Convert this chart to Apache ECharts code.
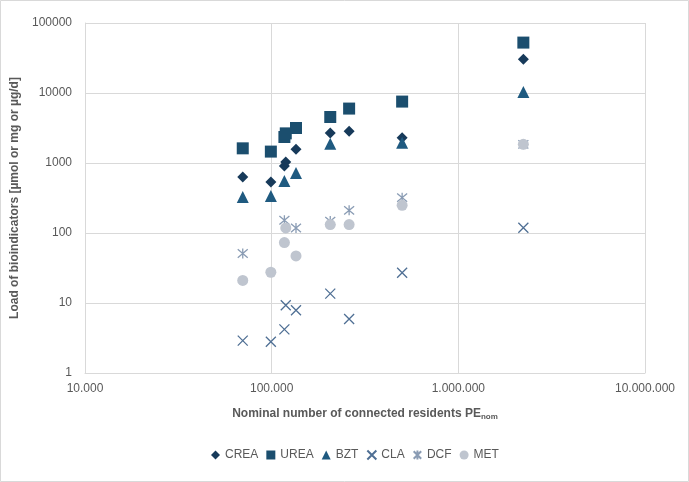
<!DOCTYPE html>
<html>
<head>
<meta charset="utf-8">
<script src="https://cdn.jsdelivr.net/npm/echarts@6/dist/echarts.min.js"></script>
<style>
html,body{margin:0;padding:0;background:#fff;}
#chart{width:689px;height:482px;}
</style>
</head>
<body>
<div id="chart"></div>
<script>
// Nominal number of connected residents (PE_nom) per WWTP
const pe   = [70000, 99000, 117000, 119000, 135000, 206000, 260000, 500000, 2230000];
// Loads of bioindicators
const crea = [630, 535, 906, 1030, 1570, 2680, 2840, 2300, 30300];
const urea = [1620, 1455, 2350, 2650, 3160, 4540, 5990, 7540, 52500];
const bzt  = [327, 338, 553, null, 720, 1890, null, 1950, 10300];
const cla  = [2.9, 2.8, 4.2, 9.3, 7.9, 13.6, 5.9, 27, 119];
const dcf  = [51, null, 152, null, 118, 148, 211, 320, 1850];
const met  = [21, 27.5, 73, 118, 47, 132, 132, 249, 1850];

const seriesNames = ['CREA', 'UREA', 'BZT', 'CLA', 'DCF', 'MET'];
const seriesVals = [crea, urea, bzt, cla, dcf, met];

const crossPath = 'path://M0,0L10,10M10,0L0,10';
const starPath = 'path://M0,0L10,10M10,0L0,10M5,-1L5,11';

const styles = {
  CREA: {symbol: 'diamond', size: 11, itemStyle: {color: '#173a5a', opacity: 1}},
  UREA: {symbol: 'rect', size: 12, itemStyle: {color: '#1b4e6e', opacity: 1}},
  BZT:  {symbol: 'triangle', size: 12, itemStyle: {color: '#1f5a80', opacity: 1}},
  CLA:  {symbol: crossPath, size: 10, itemStyle: {color: 'rgba(0,0,0,0)', borderColor: '#4f6f94', borderWidth: 1.3, opacity: 1}},
  DCF:  {symbol: starPath, size: 10, itemStyle: {color: 'rgba(0,0,0,0)', borderColor: '#8a9cb4', borderWidth: 1.3, opacity: 1}},
  MET:  {symbol: 'circle', size: 11, itemStyle: {color: '#bfc5cf', opacity: 1}}
};

function pairs(vals) {
  const out = [];
  for (let i = 0; i < pe.length; i++) {
    if (vals[i] !== null && vals[i] !== undefined) out.push([pe[i], vals[i]]);
  }
  return out;
}

function dots(v) {
  return String(Math.round(v)).replace(/\B(?=(\d{3})+(?!\d))/g, '.');
}

const chart = echarts.init(document.getElementById('chart'), null, {renderer: 'canvas'});
const font = 'Liberation Sans, Arial, sans-serif';

chart.setOption({
  animation: false,
  backgroundColor: '#fff',
  graphic: [{
    type: 'rect',
    shape: {x: 0.5, y: 0.5, width: 688, height: 481},
    style: {fill: 'none', stroke: '#d9d9d9', lineWidth: 1}
  }],
  grid: {left: 85, right: 44, top: 23, bottom: 109},
  legend: {
    bottom: 16,
    left: 206,
    itemWidth: 9,
    itemHeight: 9,
    itemGap: 8,
    textStyle: {color: '#595959', fontSize: 12, fontFamily: font},
    data: seriesNames
  },
  xAxis: {
    type: 'log',
    logBase: 10,
    min: 10000,
    max: 10000000,
    name: '{a|Nominal number of connected residents PE}{s|nom}',
    nameLocation: 'middle',
    nameGap: 33,
    nameTextStyle: {
      rich: {
        a: {color: '#595959', fontSize: 12, fontWeight: 'bold', fontFamily: font},
        s: {color: '#595959', fontSize: 8, fontWeight: 'bold', fontFamily: font, padding: [7, 0, 0, 0]}
      }
    },
    axisLine: {show: true, lineStyle: {color: '#d9d9d9'}},
    axisTick: {show: false},
    splitLine: {show: true, lineStyle: {color: '#d9d9d9', width: 1}},
    minorTick: {show: false},
    axisLabel: {color: '#595959', fontSize: 12, fontFamily: font, margin: 10, formatter: dots, showMinLabel: true, showMaxLabel: true}
  },
  yAxis: {
    type: 'log',
    logBase: 10,
    min: 1,
    max: 100000,
    name: 'Load of bioindicators [µmol or mg or µg/d]',
    nameLocation: 'middle',
    nameGap: 53,
    nameTextStyle: {color: '#595959', fontSize: 12, fontWeight: 'bold', fontFamily: font},
    axisLine: {show: true, lineStyle: {color: '#d9d9d9'}},
    axisTick: {show: false},
    splitLine: {show: true, lineStyle: {color: '#d9d9d9', width: 1}},
    axisLabel: {color: '#595959', fontSize: 12, fontFamily: font, margin: 13, formatter: v => String(Math.round(v))}
  },
  series: seriesNames.map((n, k) => ({
    name: n,
    type: 'scatter',
    symbol: styles[n].symbol,
    symbolSize: styles[n].size,
    itemStyle: styles[n].itemStyle,
    emphasis: {disabled: true},
    data: pairs(seriesVals[k])
  }))
});
</script>
</body>
</html>
